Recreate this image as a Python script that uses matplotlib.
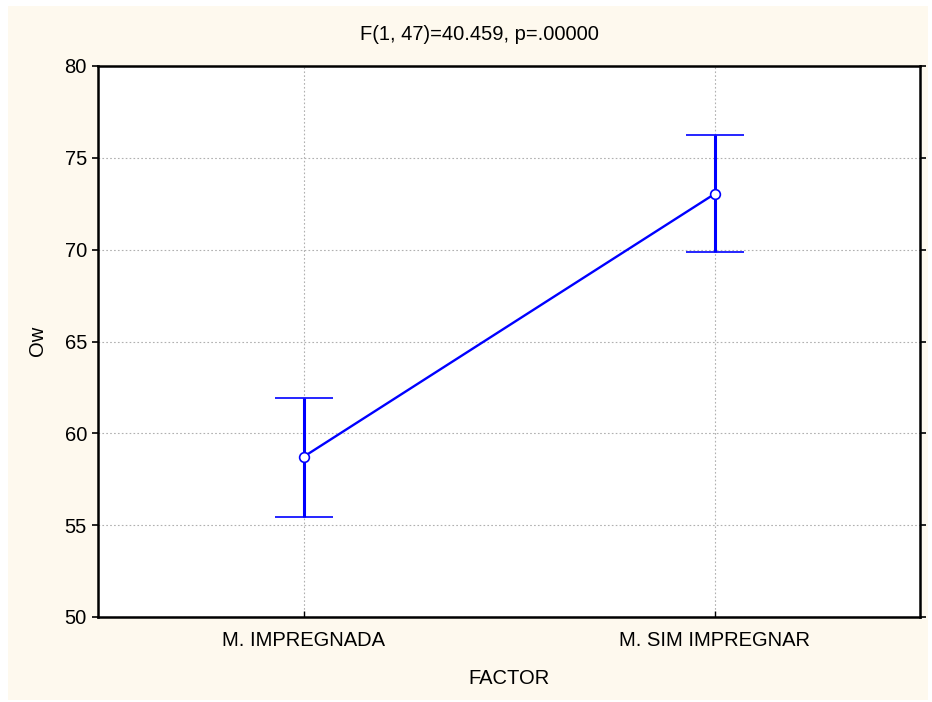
import matplotlib
matplotlib.use("Agg")
import matplotlib.pyplot as plt
from matplotlib.patches import Rectangle

categories = ["M. IMPREGNADA", "M. SIM IMPREGNAR"]
means = [58.72, 73.03]
upper = [61.93, 76.24]
lower = [55.45, 69.87]
title = "F(1, 47)=40.459, p=.00000"
yticks = [50, 55, 60, 65, 70, 75, 80]

plt.rcParams['font.family'] = ['Liberation Sans', 'DejaVu Sans']
FS = 14.5

fig = plt.figure(figsize=(9.32, 7.02), dpi=100, facecolor='white')
W, H = 932, 702
fig.patches.append(Rectangle((8/W, 2/H), (928-8)/W, (696-2)/H,
                             transform=fig.transFigure, facecolor='#FEF9EE',
                             edgecolor='none', zorder=-10))
ax = fig.add_axes([98/W, 1 - 617/H, (920-98)/W, (617-66)/H])
ax.set_facecolor('white')

x = list(range(len(categories)))
yerr = [[m - l for m, l in zip(means, lower)], [u - m for u, m in zip(upper, means)]]
ax.errorbar(x, means, yerr=yerr, color='#0000FF', lw=1.7, elinewidth=2.2,
            capsize=21, capthick=2.2, marker='o', markersize=7,
            markerfacecolor='white', markeredgecolor='#0000FF', markeredgewidth=1.2, zorder=3)

ax.set_xlim(-0.5, 1.5)
ax.set_ylim(50, 80)
ax.set_yticks(yticks)
ax.set_xticks(x)
ax.set_xticklabels(categories)
ax.grid(True, linestyle=(0, (1.5, 2)), color='#B0B0B0', linewidth=0.8)
ax.set_axisbelow(True)
for s in ax.spines.values():
    s.set_linewidth(1.8)
    s.set_color('black')
ax.tick_params(axis='y', direction='out', length=4, width=1.2, labelsize=FS, pad=4)
ax.tick_params(axis='x', direction='in', length=4, width=1.0, labelsize=FS, pad=10)
ax.tick_params(axis='y', which='both', right=True)

fig.text(479/W, 1 - 34/H, title, fontsize=FS, ha='center', va='center')
fig.text(509/W, 1 - 679/H, "FACTOR", fontsize=FS, ha='center', va='center')
fig.text(38/W, 1 - 341/H, "Ow", fontsize=FS, ha='center', va='center', rotation=90)

fig.savefig("out.png", dpi=100, facecolor=fig.get_facecolor())
